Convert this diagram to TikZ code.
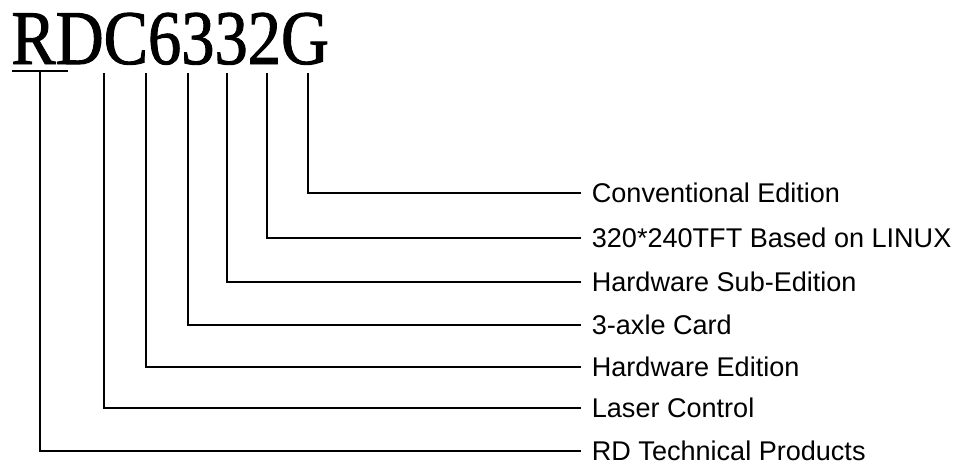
\documentclass[tikz,border=0pt]{standalone}
\usepackage{fontspec}
\setmainfont{Liberation Sans}
\newfontfamily\codefont[FakeStretch=0.86,FakeBold=1.2]{Liberation Serif}
\usetikzlibrary{positioning}

\begin{document}
\begin{tikzpicture}[
  x=0.02cm, y=-0.02cm,
  code/.style={anchor=base west, inner sep=0pt, font=\codefont\fontsize{44}{48}\selectfont},
  part/.style={anchor=west, inner xsep=6pt, inner ysep=0pt, text height=10.8pt, text depth=0pt, font=\fontsize{15.4}{18}\selectfont},
  lead/.style={line width=1pt}
]
\useasboundingbox (0,0) rectangle (953,464);

\node[code] (model) at (11,64) {RDC6332G};

% where the leads leave the model code
\coordinate (ulL) at (12,71);
\coordinate (ulR) at (68,71);
\coordinate (rd) at (40,71);
\coordinate (c) at (104,73);
\coordinate (six) at (146,73);
\coordinate (threeA) at (188,73);
\coordinate (threeB) at (227,73);
\coordinate (two) at (267,73);
\coordinate (g) at (308,73);

\node[part] (conv) at (581,193) {Conventional Edition};
\node[part] (tft) at (581,238) {320*240TFT Based on LINUX};
\node[part] (subed) at (581,282) {Hardware Sub-Edition};
\node[part] (axle) at (581,325) {3-axle Card};
\node[part] (hwed) at (581,367) {Hardware Edition};
\node[part] (laser) at (581,408) {Laser Control};
\node[part] (prod) at (581,451) {RD Technical Products};

\draw[lead] (ulL) -- (ulR);
\draw[lead] (rd) |- (prod.west);
\draw[lead] (c) |- (laser.west);
\draw[lead] (six) |- (hwed.west);
\draw[lead] (threeA) |- (axle.west);
\draw[lead] (threeB) |- (subed.west);
\draw[lead] (two) |- (tft.west);
\draw[lead] (g) |- (conv.west);
\end{tikzpicture}
\end{document}
